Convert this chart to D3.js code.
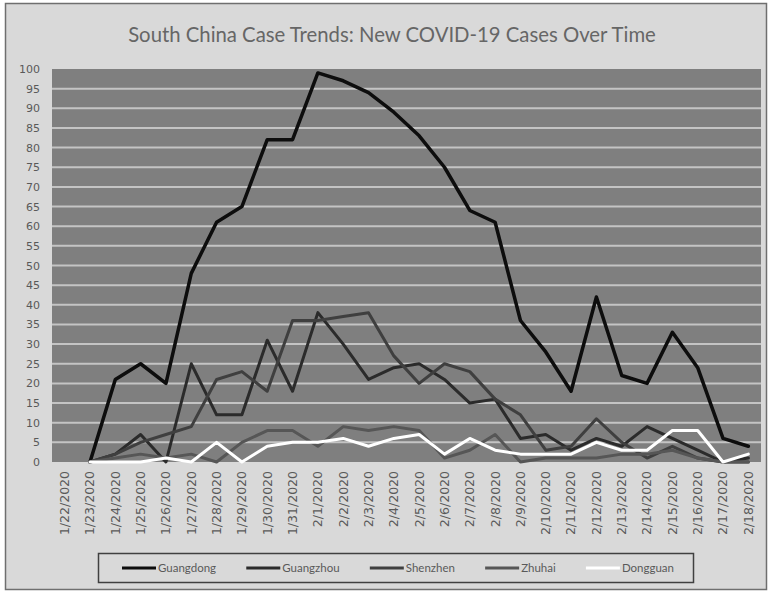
<!DOCTYPE html>
<html>
<head>
<meta charset="utf-8">
<script src="https://cdn.jsdelivr.net/npm/d3@7"></script>
<style>
  html, body { margin: 0; padding: 0; background: #ffffff; }
  svg { display: block; }
</style>
</head>
<body>
<svg id="chart" width="770" height="592"></svg>
<script>
// Report dates (x categories)
const dates = [
  "1/22/2020", "1/23/2020", "1/24/2020", "1/25/2020", "1/26/2020", "1/27/2020", "1/28/2020",
  "1/29/2020", "1/30/2020", "1/31/2020", "2/1/2020", "2/2/2020", "2/3/2020", "2/4/2020",
  "2/5/2020", "2/6/2020", "2/7/2020", "2/8/2020", "2/9/2020", "2/10/2020", "2/11/2020",
  "2/12/2020", "2/13/2020", "2/14/2020", "2/15/2020", "2/16/2020", "2/17/2020", "2/18/2020"
];

// New cases per day; null = no report that day
const guangdong = [null, 0, 21, 25, 20, 48, 61, 65, 82, 82, 99, 97, 94, 89, 83, 75, 64, 61, 36, 28, 18, 42, 22, 20, 33, 24, 6, 4];
const guangzhou = [null, 0, 2, 7, 0, 25, 12, 12, 31, 18, 38, 30, 21, 24, 25, 21, 15, 16, 6, 7, 3, 6, 4, 9, 6, 3, 0, 1];
const shenzhen  = [null, 0, 2, 5, 7, 9, 21, 23, 18, 36, 36, 37, 38, 27, 20, 25, 23, 16, 12, 3, 4, 11, 5, 1, 4, 1, 0, 0];
const zhuhai    = [null, 0, 1, 2, 1, 2, 0, 5, 8, 8, 4, 9, 8, 9, 8, 1, 3, 7, 0, 1, 1, 1, 2, 2, 3, 1, 0, 0];
const dongguan  = [null, 0, 0, 0, 1, 0, 5, 0, 4, 5, 5, 6, 4, 6, 7, 2, 6, 3, 2, 2, 2, 5, 3, 3, 8, 8, 0, 2];

const seriesNames = ["Guangdong", "Guangzhou", "Shenzhen", "Zhuhai", "Dongguan"];
const seriesValues = [guangdong, guangzhou, shenzhen, zhuhai, dongguan];
const seriesColors = ["#0d0d0d", "#2b2b2b", "#3f3f3f", "#565656", "#ffffff"];

const yTicks = d3.range(0, 101, 5);

const titleText = "South China Case Trends: New COVID-19 Cases Over Time";

const svg = d3.select("#chart");
const W = 770, H = 592;
const plot = { left: 52, right: 761, top: 69, bottom: 462 };
const textColor = "#595959";
const font = "'DejaVu Sans', sans-serif";

// Chart frame
svg.append("rect")
  .attr("x", 5.5).attr("y", 3.5)
  .attr("width", 761).attr("height", 586)
  .attr("fill", "#d9d9d9")
  .attr("stroke", "#6f6f6f")
  .attr("stroke-width", 1.5);

// Title, sized to its box
const title = svg.append("text")
  .attr("x", 392).attr("y", 42)
  .attr("text-anchor", "middle")
  .attr("fill", "#666666")
  .attr("font-family", "Lato, 'Open Sans', sans-serif")
  .attr("font-size", 20)
  .text(titleText);
const tw = title.node().getComputedTextLength();
title.attr("font-size", 20 * 528 / tw);

// Scales
const x = d3.scaleBand().domain(dates).range([plot.left, plot.right]);
const y = d3.scaleLinear().domain([0, 100]).range([plot.bottom, plot.top]);
const cx = d => x(d) + x.bandwidth() / 2;

// Plot area
svg.append("rect")
  .attr("x", plot.left).attr("y", plot.top)
  .attr("width", plot.right - plot.left).attr("height", plot.bottom - plot.top)
  .attr("fill", "#7f7f7f");

// Horizontal gridlines
svg.append("g")
  .selectAll("line")
  .data(yTicks.filter(t => t > 0 && t < 100))
  .join("line")
  .attr("x1", plot.left).attr("x2", plot.right)
  .attr("y1", d => y(d)).attr("y2", d => y(d))
  .attr("stroke", "#c4c4c4")
  .attr("stroke-width", 2);

// Y axis
const yAxis = svg.append("g")
  .attr("transform", `translate(${plot.left},0)`)
  .call(d3.axisLeft(y).tickValues(yTicks).tickSize(0).tickPadding(12));
yAxis.select(".domain").remove();
yAxis.selectAll("text")
  .attr("fill", textColor)
  .attr("font-family", font)
  .attr("font-size", 11);

// X axis with rotated date labels
const xAxis = svg.append("g")
  .attr("transform", `translate(0,${plot.bottom})`)
  .call(d3.axisBottom(x).tickSize(0).tickPadding(0));
xAxis.select(".domain").remove();
xAxis.selectAll("text")
  .attr("fill", textColor)
  .attr("font-family", font)
  .attr("font-size", 12.5)
  .attr("text-anchor", "end")
  .attr("dy", "0.35em")
  .attr("transform", "translate(0,9) rotate(-90)")
  .attr("x", 0).attr("y", 0);

// Series lines
const line = d3.line()
  .defined(d => d.v != null)
  .x(d => cx(d.date))
  .y(d => y(d.v));

svg.append("g")
  .selectAll("path")
  .data(seriesValues.map((vals, i) => ({
    name: seriesNames[i],
    color: seriesColors[i],
    points: vals.map((v, j) => ({ date: dates[j], v }))
  })))
  .join("path")
  .attr("d", s => line(s.points))
  .attr("fill", "none")
  .attr("stroke", s => s.color)
  .attr("stroke-width", (s, i) => i === 0 ? 3.5 : 3)
  .attr("stroke-linejoin", "round")
  .attr("stroke-linecap", "round");

// Legend
const legend = svg.append("g");
legend.append("rect")
  .attr("x", 98.5).attr("y", 553.5)
  .attr("width", 595).attr("height", 29)
  .attr("fill", "none")
  .attr("stroke", "#404040")
  .attr("stroke-width", 1.5);

const legendY = 568;
const sampleLen = 34;
const entries = legend.selectAll("g.entry")
  .data(seriesNames.map((n, i) => ({ name: n, color: seriesColors[i] })))
  .join("g").attr("class", "entry");
entries.append("line")
  .attr("x1", 0).attr("x2", sampleLen)
  .attr("y1", legendY).attr("y2", legendY)
  .attr("stroke", d => d.color)
  .attr("stroke-width", 3);
entries.append("text")
  .attr("x", sampleLen + 2).attr("y", legendY)
  .attr("dy", "0.35em")
  .attr("fill", textColor)
  .attr("font-family", "Lato, sans-serif")
  .attr("font-size", 11.5)
  .text(d => d.name);

// Spread the entries evenly between the first sample and the last label's end
const widths = [];
entries.selectAll("text").each(function () { widths.push(this.getComputedTextLength()); });
const startX = 122, endX = 674;
const used = d3.sum(widths, w => sampleLen + 2 + w);
const gap = (endX - startX - used) / (widths.length - 1);
let pos = startX;
entries.attr("transform", (d, i) => {
  const t = `translate(${pos},0)`;
  pos += sampleLen + 2 + widths[i] + gap;
  return t;
});
</script>
</body>
</html>
